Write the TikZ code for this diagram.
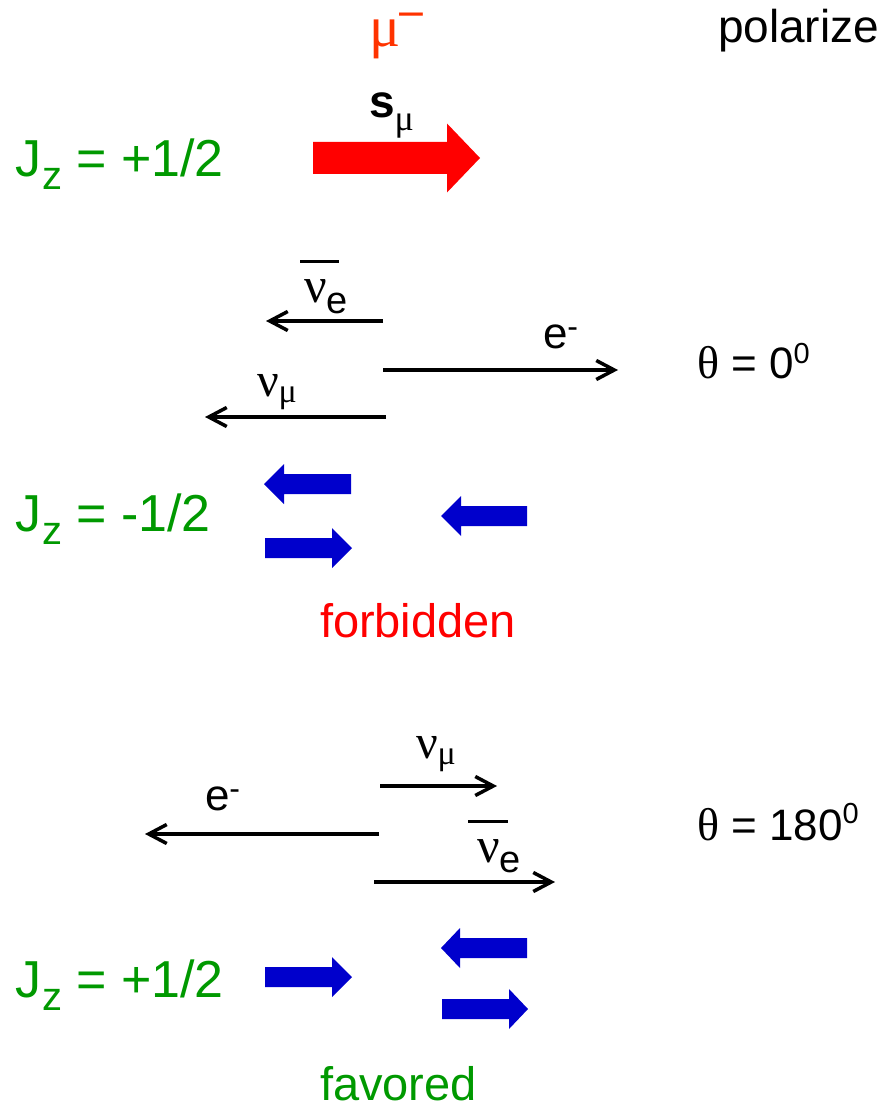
\documentclass[tikz,border=0pt]{standalone}
\usepackage{fontspec}
\setmainfont{Liberation Sans}
\newfontfamily\grk{Liberation Serif}
\newfontfamily\djv{DejaVu Sans}
\usetikzlibrary{arrows.meta}
\definecolor{jgreen}{RGB}{0,153,0}
\definecolor{ablue}{RGB}{0,0,204}
\definecolor{mured}{RGB}{255,51,0}
\newcommand\fsz[1]{\fontsize{#1}{#1}\selectfont}
% block arrow: color, tail x, head-base x, tip x, centre y, body half, head half
\newcommand\blk[7]{\fill[#1] (#2,#5-#6) -- (#3,#5-#6) -- (#3,#5-#7) -- (#4,#5) -- (#3,#5+#7) -- (#3,#5+#6) -- (#2,#5+#6) -- cycle;}
\begin{document}
\begin{tikzpicture}[x=1pt,y=-1pt,
  lbl/.style={inner sep=0pt, outer sep=0pt, anchor=base west},
  thinarr/.style={line width=3.5pt, -{Straight Barb[length=18pt,width=19pt]}}]
\useasboundingbox (0,0) rectangle (877,1118);

% ---- top ----
\node[lbl, text=mured] (mu) at (369,47) {\grk\fsz{58}μ\kern-5pt\raisebox{20pt}[0pt][0pt]{\djv\fsz{38}−}};
\node[lbl] (pol) at (718,43) {\fsz{46}polarize};
\node[lbl, text=jgreen] (jz1) at (16,177) {\fsz{52}J\raisebox{-13pt}{\fsz{40}z} = +1/2};
\node[lbl] (smu) at (369,118) {\fsz{46}\bfseries s\raisebox{-13pt}{\grk\mdseries\fsz{36}μ}};
\blk{red}{313}{447}{480}{158}{16}{34.5}

% ---- theta = 0 ----
\coordinate (a1s) at (383,321); \coordinate (a1e) at (266,321);
\coordinate (a2s) at (383,370); \coordinate (a2e) at (618,370);
\coordinate (a3s) at (386,417); \coordinate (a3e) at (205,417);
\draw[thinarr] (a1s) -- (a1e);
\draw[thinarr] (a2s) -- (a2e);
\draw[thinarr] (a3s) -- (a3e);
\node[lbl] (nue1) at (304,302) {\fsz{50}\rlap{\kern-4pt\rule[39pt]{39pt}{3.5pt}}{\grk ν}\raisebox{-11pt}{\fsz{38}e}};
\node[lbl] (el1) at (543,348) {\fsz{44}e\raisebox{11pt}{\fsz{32}-}};
\node[lbl] (num1) at (257,396) {\grk\fsz{48}ν\raisebox{-6pt}{\fsz{34}μ}};
\node[lbl] (th1) at (697,378) {{\grk\fsz{46}θ}\fsz{44} = 0\raisebox{15pt}{\fsz{29}0}};

\node[lbl, text=jgreen] (jz2) at (16,531) {\fsz{52}J\raisebox{-13pt}{\fsz{40}z} = -1/2};
\blk{ablue}{351}{284}{264}{484}{10}{20}
\blk{ablue}{265}{332}{352}{548}{10}{20}
\blk{ablue}{527}{461}{441}{516}{10}{20}
\node[lbl, text=red] (forb) at (320,637) {\fsz{47}forbidden};

% ---- theta = 180 ----
\coordinate (b1s) at (380,786); \coordinate (b1e) at (497,786);
\coordinate (b2s) at (379,834); \coordinate (b2e) at (145,834);
\coordinate (b3s) at (374,882); \coordinate (b3e) at (555,882);
\draw[thinarr] (b1s) -- (b1e);
\draw[thinarr] (b2s) -- (b2e);
\draw[thinarr] (b3s) -- (b3e);
\node[lbl] (num2) at (416,758) {\grk\fsz{48}ν\raisebox{-6pt}{\fsz{34}μ}};
\node[lbl] (el2) at (205,810) {\fsz{44}e\raisebox{11pt}{\fsz{32}-}};
\node[lbl] (nue2) at (477,862) {\fsz{50}\rlap{\kern-9pt\rule[39pt]{40pt}{3.5pt}}{\grk ν}\raisebox{-10pt}{\fsz{38}e}};
\node[lbl] (th2) at (697,840) {{\grk\fsz{46}θ}\fsz{44} = 180\raisebox{17pt}{\fsz{29}0}};

\node[lbl, text=jgreen] (jz3) at (16,997) {\fsz{52}J\raisebox{-13pt}{\fsz{40}z} = +1/2};
\blk{ablue}{265}{332}{352}{977}{10}{20}
\blk{ablue}{527}{460}{441}{948}{10}{20}
\blk{ablue}{442}{509}{528}{1009}{10}{20}
\node[lbl, text=jgreen] (fav) at (320,1100) {\fsz{47}favored};
\end{tikzpicture}
\end{document}
